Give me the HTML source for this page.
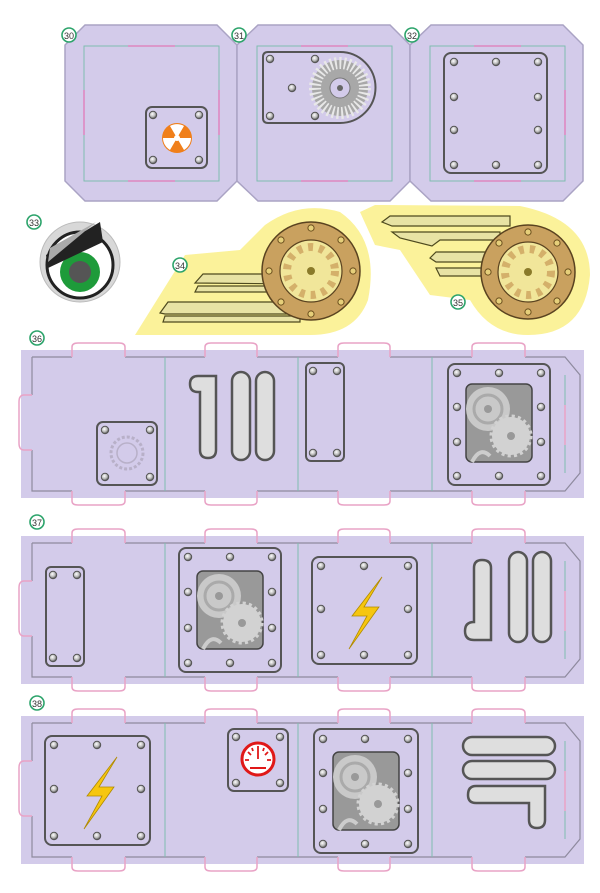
<!DOCTYPE html>
<html><head><meta charset="utf-8"><style>
html,body{margin:0;padding:0;background:#fff;}
svg{display:block;font-family:"Liberation Sans",sans-serif;}
</style></head><body>
<svg width="600" height="893" viewBox="0 0 600 893" xmlns="http://www.w3.org/2000/svg">
<defs>
<radialGradient id="sg" cx="0.4" cy="0.35" r="0.7"><stop offset="0" stop-color="#fff"/><stop offset="0.6" stop-color="#bbb"/><stop offset="1" stop-color="#555"/></radialGradient>
<g id="sc"><circle r="4.2" fill="#555"/><circle r="3.2" fill="url(#sg)"/></g>
<g id="bs"><circle r="3.6" fill="#6b4f1e"/><circle r="2.6" fill="#e6cf7a"/></g>
<g id="num"><circle r="7" fill="#fff" stroke="#2ba36a" stroke-width="1.6"/></g>
<g id="gearwin">
  <rect x="0" y="0" width="66" height="78" rx="6" fill="#999" stroke="#444" stroke-width="1.5"/>
  <circle cx="22" cy="25" r="22" fill="#c9c9c9"/>
  <circle cx="22" cy="25" r="14" fill="none" stroke="#aaa" stroke-width="3"/>
  <circle cx="22" cy="25" r="4" fill="#999"/>
  <circle cx="45" cy="52" r="19" fill="#d2d2d2" stroke="#d2d2d2" stroke-width="5" stroke-dasharray="3 3"/>
  <circle cx="45" cy="52" r="4" fill="#999"/>
  <path d="M6 78 Q14 62 24 72" fill="none" stroke="#ccc" stroke-width="4"/>
</g>
<g id="bolt"><path d="M21 -33 L-9 6 L6 6 L-12 39 L18 -3 L3 -3 L21 -33 Z" fill="#f6c60f" stroke="#b08a00" stroke-width="0.8"/></g>
<g id="strip">
  <rect x="21" y="0" width="563" height="148" fill="#d3cbea"/>
  <path d="M32 7 H72 M125 7 H205 M257 7 H338 M390 7 H472 M525 7 H565 L580 25 V123 L565 141 H525 M472 141 H390 M338 141 H257 M205 141 H125 M72 141 H32 V100 M32 45 V7" fill="none" stroke="#8e8a9e" stroke-width="1.2"/>
  <path d="M165 7 V141 M298 7 V141 M432 7 V141 M565 25 V123" stroke="#7fbdb0" stroke-width="1"/>
  <g fill="none" stroke="#e9a3c6" stroke-width="1.5">
    <path d="M72 7 V-3 Q72 -7 78 -7 H119 Q125 -7 125 -3 V7"/>
    <path d="M205 7 V-3 Q205 -7 211 -7 H251 Q257 -7 257 -3 V7"/>
    <path d="M338 7 V-3 Q338 -7 344 -7 H384 Q390 -7 390 -3 V7"/>
    <path d="M472 7 V-3 Q472 -7 478 -7 H519 Q525 -7 525 -3 V7"/>
    <path d="M72 141 V151 Q72 155 78 155 H119 Q125 155 125 151 V141"/>
    <path d="M205 141 V151 Q205 155 211 155 H251 Q257 155 257 151 V141"/>
    <path d="M338 141 V151 Q338 155 344 155 H384 Q390 155 390 151 V141"/>
    <path d="M472 141 V151 Q472 155 478 155 H519 Q525 155 525 151 V141"/>
    <path d="M32 45 H24 Q19 45 19 52 V93 Q19 100 24 100 H32"/>
    <path d="M565 55 V95" />
  </g>
</g>
</defs>

<g>
  <polygon points="85,25 217,25 237,45 237,181 217,201 85,201 65,181 65,45" fill="#d3cbea" stroke="#aaa3c4" stroke-width="1.5"/>
  <polygon points="258,25 390,25 410,45 410,181 390,201 258,201 237,181 237,45" fill="#d3cbea" stroke="#aaa3c4" stroke-width="1.5"/>
  <polygon points="431,25 563,25 583,45 583,181 563,201 431,201 410,181 410,45" fill="#d3cbea" stroke="#aaa3c4" stroke-width="1.5"/>
  <g fill="none" stroke-width="1">
    <rect x="84" y="46" width="135" height="135" stroke="#7fbdb0"/>
    <rect x="257" y="46" width="135" height="135" stroke="#7fbdb0"/>
    <rect x="430" y="46" width="135" height="135" stroke="#7fbdb0"/>
    <path d="M128 46 H175 M128 181 H175 M301 46 H348 M301 181 H348 M474 46 H521 M474 181 H521 M84 90 V135 M219 90 V135 M565 90 V135" stroke="#e07ab8" stroke-width="1.3"/>
  </g>
  <use href="#num" x="69" y="35"/><text x="69" y="39" font-size="9" text-anchor="middle" fill="#333">30</text>
  <use href="#num" x="239" y="35"/><text x="239" y="39" font-size="9" text-anchor="middle" fill="#333">31</text>
  <use href="#num" x="412" y="35"/><text x="412" y="39" font-size="9" text-anchor="middle" fill="#333">32</text>
  <rect x="146" y="107" width="61" height="61" rx="6" fill="#d3cbea" stroke="#555" stroke-width="2"/>
  <use href="#sc" x="153" y="115"/><use href="#sc" x="199" y="115"/><use href="#sc" x="153" y="160"/><use href="#sc" x="199" y="160"/>
  <circle cx="177" cy="138" r="15" fill="#f07f1a"/>
  <path d="M177 138 L170 126 A14 14 0 0 1 184 126 Z M177 138 L191 138 A14 14 0 0 1 184 150 Z M177 138 L170 150 A14 14 0 0 1 163 138 Z" fill="#fff"/>
  <circle cx="177" cy="138" r="3" fill="#fff"/>
  <path d="M268 52 H340 A35 35 0 0 1 340 123 H268 Q263 123 263 118 V57 Q263 52 268 52 Z" fill="#d3cbea" stroke="#555" stroke-width="2"/>
  <use href="#sc" x="270" y="59"/><use href="#sc" x="315" y="59"/><use href="#sc" x="292" y="88"/><use href="#sc" x="270" y="116"/><use href="#sc" x="315" y="116"/>
  <circle cx="340" cy="88" r="28" fill="#a8a8a8"/>
  <circle cx="340" cy="88" r="25" fill="none" stroke="#e8e8e8" stroke-width="12" stroke-dasharray="2 2.5"/>
  <circle cx="340" cy="88" r="10" fill="#d3cbea" stroke="#777"/>
  <circle cx="340" cy="88" r="3" fill="#666"/>
  <rect x="444" y="53" width="103" height="120" rx="7" fill="#d3cbea" stroke="#555" stroke-width="2"/>
  <use href="#sc" x="454" y="62"/><use href="#sc" x="496" y="62"/><use href="#sc" x="538" y="62"/>
  <use href="#sc" x="454" y="97"/><use href="#sc" x="538" y="97"/>
  <use href="#sc" x="454" y="130"/><use href="#sc" x="538" y="130"/>
  <use href="#sc" x="454" y="165"/><use href="#sc" x="496" y="165"/><use href="#sc" x="538" y="165"/>
</g>

<use href="#num" x="34" y="222"/><text x="34" y="226" font-size="9" text-anchor="middle" fill="#333">33</text>
<circle cx="80" cy="262" r="40" fill="#d8d8d8" stroke="#bbb"/>
<circle cx="80" cy="265" r="33" fill="#fff" stroke="#222" stroke-width="3"/>
<circle cx="80" cy="272" r="20" fill="#1e9b3a"/>
<circle cx="80" cy="272" r="11" fill="#555"/>
<path d="M46 255 L100 222 L103 242 L48 268 Z" fill="#222"/>
<path d="M50 248 L96 222 L48 262 Z" fill="#aaa"/>

<path d="M135 335 L185 255 L240 250 L265 225 Q300 200 340 212 Q380 240 368 300 Q355 335 310 335 Z" fill="#fbf29a"/>
<path d="M360 212 L375 205 L520 206 Q590 220 590 275 Q585 335 528 335 Q490 335 470 300 L430 295 L400 250 L375 245 Z" fill="#fbf29a"/>
<g fill="#e8e3a4" stroke="#4e4a1e" stroke-width="1.2">
  <path d="M160 313 L168 302 L300 302 L300 314 L165 314 Z"/>
  <path d="M163 322 L300 322 L300 316 L165 316 Z"/>
  <path d="M195 283 L203 274 L300 274 L300 284 Z"/>
  <path d="M195 292 L300 292 L300 286 L198 286 Z"/>
  <path d="M382 222 L390 216 L510 216 L510 226 L392 226 Z"/>
  <path d="M392 232 L500 232 L500 240 L440 240 L432 246 L400 238 Z"/>
  <path d="M430 258 L436 252 L490 252 L490 262 L436 262 Z"/>
  <path d="M436 268 L490 268 L490 276 L440 276 Z"/>
</g>
<g>
  <circle cx="311" cy="271" r="49" fill="#c9a15f" stroke="#5a4320" stroke-width="1.5"/>
  <circle cx="311" cy="271" r="31" fill="#f1e69a" stroke="#5a4320" stroke-width="1.2"/>
  <circle cx="311" cy="271" r="24" fill="none" stroke="#d4b06a" stroke-width="8" stroke-dasharray="5 6"/>
  <circle cx="311" cy="271" r="4" fill="#8a7a2a"/>
  <use href="#bs" x="311" y="228"/><use href="#bs" x="341" y="240"/><use href="#bs" x="353" y="271"/><use href="#bs" x="341" y="302"/><use href="#bs" x="311" y="314"/><use href="#bs" x="281" y="302"/><use href="#bs" x="269" y="271"/><use href="#bs" x="281" y="240"/>
</g>
<g>
  <circle cx="528" cy="272" r="47" fill="#c9a15f" stroke="#5a4320" stroke-width="1.5"/>
  <circle cx="528" cy="272" r="30" fill="#f1e69a" stroke="#5a4320" stroke-width="1.2"/>
  <circle cx="528" cy="272" r="23" fill="none" stroke="#d4b06a" stroke-width="8" stroke-dasharray="5 6"/>
  <circle cx="528" cy="272" r="4" fill="#8a7a2a"/>
  <use href="#bs" x="528" y="232"/><use href="#bs" x="557" y="243"/><use href="#bs" x="568" y="272"/><use href="#bs" x="557" y="301"/><use href="#bs" x="528" y="312"/><use href="#bs" x="499" y="301"/><use href="#bs" x="488" y="272"/><use href="#bs" x="499" y="243"/>
</g>
<use href="#num" x="180" y="265"/><text x="180" y="269" font-size="9" text-anchor="middle" fill="#333">34</text>
<use href="#num" x="458" y="302"/><text x="458" y="306" font-size="9" text-anchor="middle" fill="#333">35</text>

<use href="#num" x="37" y="338"/><text x="37" y="342" font-size="9" text-anchor="middle" fill="#333">36</text>
<g transform="translate(0,350)"><use href="#strip"/></g>
<rect x="97" y="422" width="60" height="63" rx="6" fill="#d3cbea" stroke="#555" stroke-width="2"/>
<use href="#sc" x="105" y="430"/><use href="#sc" x="150" y="430"/><use href="#sc" x="105" y="477"/><use href="#sc" x="150" y="477"/>
<circle cx="127" cy="453" r="16" fill="none" stroke="#b8b0c8" stroke-width="3" stroke-dasharray="3 2"/>
<circle cx="127" cy="453" r="10" fill="none" stroke="#b8b0c8" stroke-width="1.5"/>
<g fill="#dedede" stroke="#555" stroke-width="2.5">
  <path d="M198 376 H216 V450 Q216 458 208 458 Q200 458 200 450 V392 H198 Q190 392 190 384 Q190 376 198 376 Z"/>
  <rect x="232" y="372" width="18" height="88" rx="9"/>
  <rect x="256" y="372" width="18" height="88" rx="9"/>
</g>
<rect x="306" y="363" width="38" height="98" rx="5" fill="#d3cbea" stroke="#555" stroke-width="2"/>
<use href="#sc" x="313" y="371"/><use href="#sc" x="337" y="371"/><use href="#sc" x="313" y="453"/><use href="#sc" x="337" y="453"/>
<rect x="448" y="364" width="102" height="121" rx="7" fill="#d3cbea" stroke="#555" stroke-width="2"/>
<use href="#gearwin" x="466" y="384"/>
<use href="#sc" x="457" y="373"/><use href="#sc" x="499" y="373"/><use href="#sc" x="541" y="373"/>
<use href="#sc" x="457" y="407"/><use href="#sc" x="541" y="407"/><use href="#sc" x="457" y="442"/><use href="#sc" x="541" y="442"/>
<use href="#sc" x="457" y="476"/><use href="#sc" x="499" y="476"/><use href="#sc" x="541" y="476"/>

<use href="#num" x="37" y="522"/><text x="37" y="526" font-size="9" text-anchor="middle" fill="#333">37</text>
<g transform="translate(0,536)"><use href="#strip"/></g>
<rect x="46" y="567" width="38" height="99" rx="5" fill="#d3cbea" stroke="#555" stroke-width="2"/>
<use href="#sc" x="53" y="575"/><use href="#sc" x="77" y="575"/><use href="#sc" x="53" y="658"/><use href="#sc" x="77" y="658"/>
<rect x="179" y="548" width="102" height="124" rx="7" fill="#d3cbea" stroke="#555" stroke-width="2"/>
<use href="#gearwin" x="197" y="571"/>
<use href="#sc" x="188" y="557"/><use href="#sc" x="230" y="557"/><use href="#sc" x="272" y="557"/>
<use href="#sc" x="188" y="592"/><use href="#sc" x="272" y="592"/><use href="#sc" x="188" y="628"/><use href="#sc" x="272" y="628"/>
<use href="#sc" x="188" y="663"/><use href="#sc" x="230" y="663"/><use href="#sc" x="272" y="663"/>
<rect x="312" y="557" width="105" height="107" rx="7" fill="#d3cbea" stroke="#555" stroke-width="2"/>
<use href="#sc" x="321" y="566"/><use href="#sc" x="364" y="566"/><use href="#sc" x="408" y="566"/>
<use href="#sc" x="321" y="609"/><use href="#sc" x="408" y="609"/>
<use href="#sc" x="321" y="655"/><use href="#sc" x="364" y="655"/><use href="#sc" x="408" y="655"/>
<use href="#bolt" x="361" y="610"/>
<g fill="#dedede" stroke="#555" stroke-width="2.5">
  <path d="M482 560 Q491 560 491 568 V640 H474 Q465 640 465 631 Q465 622 474 622 V568 Q474 560 482 560 Z"/>
  <rect x="509" y="552" width="18" height="90" rx="9"/>
  <rect x="533" y="552" width="18" height="90" rx="9"/>
</g>

<use href="#num" x="37" y="703"/><text x="37" y="707" font-size="9" text-anchor="middle" fill="#333">38</text>
<g transform="translate(0,716)"><use href="#strip"/></g>
<rect x="45" y="736" width="105" height="109" rx="7" fill="#d3cbea" stroke="#555" stroke-width="2"/>
<use href="#sc" x="54" y="745"/><use href="#sc" x="97" y="745"/><use href="#sc" x="141" y="745"/>
<use href="#sc" x="54" y="789"/><use href="#sc" x="141" y="789"/>
<use href="#sc" x="54" y="836"/><use href="#sc" x="97" y="836"/><use href="#sc" x="141" y="836"/>
<use href="#bolt" x="96" y="790"/>
<rect x="228" y="729" width="60" height="62" rx="6" fill="#d3cbea" stroke="#555" stroke-width="2"/>
<use href="#sc" x="236" y="737"/><use href="#sc" x="280" y="737"/><use href="#sc" x="236" y="783"/><use href="#sc" x="280" y="783"/>
<circle cx="258" cy="759" r="16" fill="#fff" stroke="#e01818" stroke-width="3"/>
<path d="M258 759 V746 M248 752 L251 755 M268 752 L265 755 M245 760 H249 M271 760 H267 M252 748 L253 751 M264 748 L263 751" stroke="#e01818" stroke-width="1.8"/>
<path d="M250 768 H266" stroke="#e01818" stroke-width="2"/>
<rect x="314" y="729" width="104" height="124" rx="7" fill="#d3cbea" stroke="#555" stroke-width="2"/>
<use href="#gearwin" x="333" y="752"/>
<use href="#sc" x="323" y="739"/><use href="#sc" x="365" y="739"/><use href="#sc" x="408" y="739"/>
<use href="#sc" x="323" y="773"/><use href="#sc" x="408" y="773"/><use href="#sc" x="323" y="809"/><use href="#sc" x="408" y="809"/>
<use href="#sc" x="323" y="844"/><use href="#sc" x="365" y="844"/><use href="#sc" x="408" y="844"/>
<g fill="#dedede" stroke="#555" stroke-width="2.5">
  <rect x="463" y="737" width="92" height="18" rx="9"/>
  <rect x="463" y="761" width="92" height="18" rx="9"/>
  <path d="M476 786 H545 V820 Q545 828 537 828 Q529 828 529 820 V803 H476 Q468 803 468 795 Q468 786 476 786 Z"/>
</g>
</svg>
</body></html>
